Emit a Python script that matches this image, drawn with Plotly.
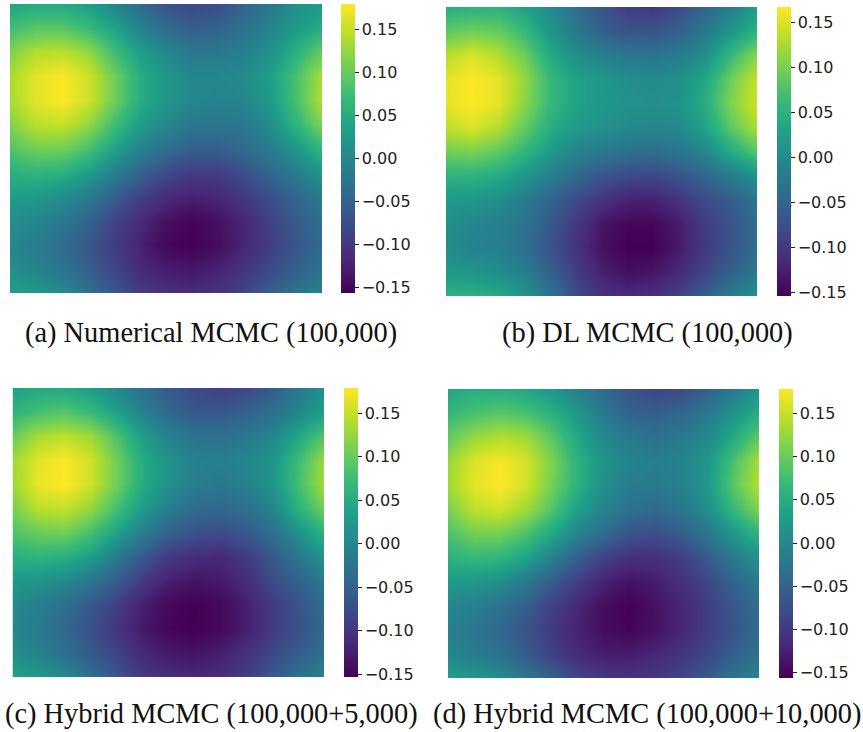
import plotly.graph_objects as go

W, H = 863, 732

grid_cols = list(range(13))
grid_rows = list(range(13))

panel_a = [
    [.040, .045, .045, .030, .000, -.040, -.070, -.085, -.075, -.050, -.020, .010, .025],
    [.075, .090, .090, .070, .035, -.005, -.040, -.055, -.050, -.030, -.005, .025, .050],
    [.115, .140, .145, .125, .075, .030, .000, -.020, -.020, -.010, .015, .055, .100],
    [.135, .165, .177, .155, .105, .050, .020, .000, .000, .005, .030, .080, .135],
    [.135, .165, .179, .155, .105, .050, .020, .000, -.005, .000, .025, .080, .140],
    [.115, .145, .150, .125, .075, .030, .000, -.020, -.025, -.020, .010, .060, .115],
    [.085, .105, .105, .080, .035, -.005, -.035, -.055, -.055, -.040, -.015, .020, .065],
    [.055, .060, .055, .030, -.010, -.050, -.080, -.095, -.095, -.075, -.045, -.015, .020],
    [.030, .025, .010, -.015, -.055, -.090, -.115, -.125, -.120, -.100, -.075, -.045, -.015],
    [.010, .000, -.020, -.050, -.085, -.115, -.140, -.152, -.140, -.120, -.090, -.060, -.035],
    [.000, -.015, -.035, -.065, -.095, -.125, -.150, -.156, -.145, -.120, -.095, -.065, -.040],
    [.010, -.005, -.025, -.055, -.085, -.115, -.130, -.135, -.125, -.105, -.080, -.055, -.030],
    [.035, .025, .005, -.030, -.065, -.095, -.110, -.115, -.105, -.085, -.055, -.030, -.005],
]
panel_b = [
    [.045, .050, .050, .030, .000, -.035, -.070, -.095, -.100, -.080, -.050, -.015, .025],
    [.085, .095, .090, .060, .015, -.025, -.055, -.070, -.070, -.055, -.025, .015, .050],
    [.130, .150, .130, .095, .040, .005, -.015, -.025, -.030, -.020, .005, .060, .110],
    [.155, .165, .155, .115, .060, .030, .015, .005, .000, .005, .035, .095, .140],
    [.155, .167, .155, .110, .060, .030, .015, .010, .005, .010, .045, .105, .145],
    [.135, .150, .130, .090, .045, .020, .010, .000, -.005, .000, .030, .085, .130],
    [.095, .100, .085, .055, .020, -.010, -.025, -.035, -.040, -.030, -.005, .040, .080],
    [.050, .050, .040, .015, -.015, -.045, -.070, -.080, -.085, -.070, -.050, -.020, .010],
    [.020, .015, .005, -.020, -.050, -.080, -.105, -.125, -.125, -.105, -.080, -.060, -.030],
    [.005, -.005, -.015, -.030, -.065, -.100, -.135, -.148, -.148, -.130, -.095, -.070, -.040],
    [.000, -.010, -.015, -.035, -.070, -.105, -.140, -.154, -.154, -.130, -.100, -.070, -.040],
    [.020, .015, .005, -.015, -.055, -.095, -.125, -.140, -.135, -.115, -.085, -.055, -.025],
    [.050, .050, .040, .015, -.030, -.080, -.105, -.115, -.110, -.090, -.055, -.020, .010],
]
panel_c = [
    [.035, .045, .045, .030, .005, -.030, -.060, -.080, -.090, -.080, -.055, -.020, .015],
    [.060, .080, .090, .070, .035, -.005, -.040, -.060, -.060, -.050, -.030, .000, .035],
    [.100, .135, .145, .130, .085, .030, -.005, -.025, -.030, -.020, .000, .045, .090],
    [.130, .165, .177, .155, .105, .050, .015, -.005, -.010, .000, .020, .075, .130],
    [.130, .170, .179, .155, .105, .050, .015, -.010, -.020, -.005, .020, .080, .135],
    [.110, .145, .150, .125, .080, .030, -.010, -.035, -.040, -.030, .000, .060, .110],
    [.085, .100, .105, .080, .035, -.010, -.050, -.070, -.075, -.060, -.030, .015, .060],
    [.055, .060, .055, .030, -.015, -.060, -.095, -.110, -.115, -.095, -.060, -.020, .020],
    [.025, .020, .005, -.020, -.055, -.095, -.125, -.135, -.130, -.110, -.075, -.050, -.015],
    [.005, -.010, -.030, -.060, -.090, -.125, -.145, -.153, -.145, -.125, -.095, -.065, -.035],
    [.000, -.015, -.040, -.070, -.100, -.130, -.148, -.153, -.145, -.125, -.095, -.070, -.040],
    [.010, -.005, -.030, -.060, -.085, -.115, -.130, -.135, -.125, -.105, -.080, -.055, -.030],
    [.035, .025, .005, -.030, -.065, -.095, -.110, -.115, -.110, -.090, -.060, -.030, -.005],
]
panel_d = [
    [.040, .050, .050, .040, .020, -.010, -.045, -.070, -.085, -.080, -.055, -.020, .020],
    [.065, .080, .090, .080, .055, .020, -.020, -.050, -.055, -.045, -.020, .015, .050],
    [.095, .125, .140, .130, .090, .040, .000, -.020, -.030, -.020, .000, .045, .095],
    [.125, .160, .174, .155, .110, .055, .015, -.005, -.015, -.005, .020, .080, .135],
    [.130, .165, .178, .155, .105, .055, .010, -.015, -.020, -.010, .020, .090, .142],
    [.110, .145, .155, .130, .085, .030, -.005, -.030, -.040, -.025, .010, .065, .115],
    [.080, .105, .105, .080, .040, -.005, -.040, -.070, -.075, -.060, -.025, .020, .060],
    [.055, .065, .060, .035, -.010, -.055, -.090, -.110, -.110, -.095, -.060, -.020, .015],
    [.025, .020, .010, -.020, -.060, -.095, -.125, -.140, -.130, -.110, -.085, -.050, -.015],
    [.000, -.010, -.030, -.055, -.090, -.120, -.145, -.156, -.140, -.120, -.095, -.065, -.035],
    [-.010, -.025, -.045, -.070, -.100, -.125, -.145, -.152, -.140, -.120, -.095, -.070, -.040],
    [.000, -.015, -.030, -.060, -.090, -.115, -.130, -.130, -.120, -.105, -.085, -.055, -.030],
    [.030, .020, .005, -.025, -.055, -.085, -.100, -.105, -.100, -.085, -.060, -.030, -.005],
]

tick_values = [-0.15, -0.10, -0.05, 0.00, 0.05, 0.10, 0.15]
tick_labels = ["\u22120.15", "\u22120.10", "\u22120.05", "0.00", "0.05", "0.10", "0.15"]
captions = [
    "(a) Numerical MCMC (100,000)",
    "(b) DL MCMC (100,000)",
    "(c) Hybrid MCMC (100,000+5,000)",
    "(d) Hybrid MCMC (100,000+10,000)",
]
z_limits = [(-0.156, 0.179), (-0.154, 0.167), (-0.153, 0.179), (-0.156, 0.178)]
panels = [panel_a, panel_b, panel_c, panel_d]

# pixel boxes: heatmap left/right/top/bottom, colourbar left, caption centre x / y
boxes = [
    (10, 322, 4, 293, 341, 211, 333),
    (446, 757, 7, 296, 777, 647, 333),
    (12.5, 324, 388, 677, 344, 211, 714),
    (448, 759, 389, 678, 779, 647, 714),
]

fig = go.Figure()
layout = {}
annotations = []
for i, (z, lim, box, cap) in enumerate(zip(panels, z_limits, boxes, captions), start=1):
    l, r, t, b, cb, cx, cy = box
    fig.add_trace(go.Heatmap(
        z=z, x=grid_cols, y=grid_rows, xaxis=f"x{i}", yaxis=f"y{i}",
        colorscale="Viridis", zmin=lim[0], zmax=lim[1], zsmooth="best",
        hoverinfo="skip",
        colorbar=dict(
            x=cb / W, xanchor="left", xpad=0, ypad=0,
            y=1 - b / H, yanchor="bottom",
            lenmode="pixels", len=b - t, thicknessmode="pixels", thickness=14,
            outlinewidth=0, tickmode="array", tickvals=tick_values, ticktext=tick_labels,
            ticks="outside", ticklen=4, tickwidth=1, tickcolor="#222222",
            tickfont=dict(family="DejaVu Sans", size=16, color="#222222"),
        ),
    ))
    layout[f"xaxis{i}"] = dict(domain=[l / W, r / W], range=[0, 12], visible=False, anchor=f"y{i}")
    layout[f"yaxis{i}"] = dict(domain=[1 - b / H, 1 - t / H], range=[12, 0], visible=False, anchor=f"x{i}")
    annotations.append(dict(
        text=cap, x=cx / W, y=1 - cy / H, xref="paper", yref="paper",
        xanchor="center", yanchor="middle", showarrow=False,
        font=dict(family="Liberation Serif", size=28.4, color="#111111"),
    ))

fig.update_layout(
    width=W, height=H, margin=dict(l=0, r=0, t=0, b=0),
    paper_bgcolor="white", plot_bgcolor="white", showlegend=False,
    annotations=annotations, **layout,
)
fig.write_html("out.html", config={"displayModeBar": False},
               post_script="document.body.style.margin='0';")
